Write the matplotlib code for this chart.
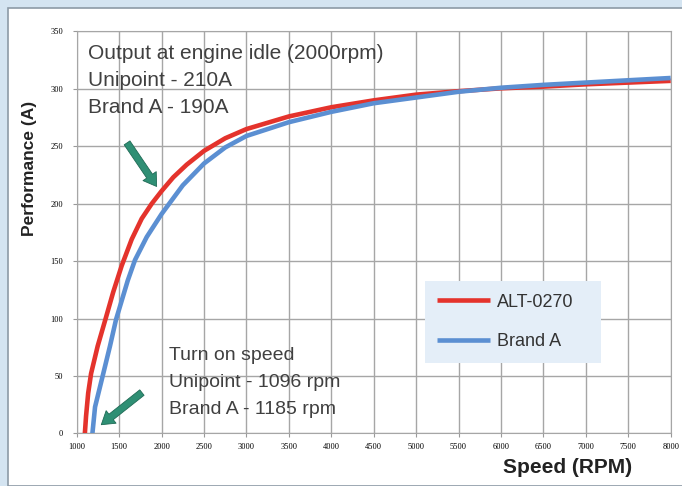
import matplotlib.pyplot as plt
from matplotlib.patches import Rectangle

# values
alt_rpm = [1096, 1110, 1135, 1169, 1247, 1345, 1430, 1530, 1648, 1766, 1884, 2000,
           2138, 2296, 2500, 2750, 3000, 3500, 4000, 4500, 5000, 5500, 6000,
           6500, 7000, 7500, 8000]
alt_amps = [0, 15, 35, 52, 76, 101, 123, 146, 169, 187, 200, 211,
            223, 234, 246, 257, 265, 276, 284, 290, 295, 298, 300.5,
            302, 304, 305.5, 307]
brand_rpm = [1185, 1216, 1306, 1392, 1463, 1601, 1687, 1825, 2000, 2250,
             2500, 2750, 3000, 3500, 4000, 4500, 5000, 5500, 6000, 6500, 7000,
             7500, 8000]
brand_amps = [0, 23, 50, 76, 99, 133, 151, 171, 191, 216,
              235, 249, 259, 271, 280, 287.5, 292.5, 297.5, 301, 303.5, 305.5,
              307.5, 309.5]
x_ticks = list(range(1000, 8001, 500))
y_ticks = list(range(0, 351, 50))

plt.rcParams['font.family'] = ['Liberation Sans', 'DejaVu Sans']

fig = plt.figure(figsize=(6.82, 4.86), dpi=100)
fig.patch.set_facecolor('#d4e4f1')
# white panel inside the light blue frame
fig.patches.append(Rectangle((8 / 682, 0), 1, 1 - 8 / 486, transform=fig.transFigure,
                             facecolor='white', edgecolor='#8c9aa6', lw=1.2, zorder=-5))

ax = fig.add_axes([0.1125, 0.1084, 0.8709, 0.8268])
ax.set_zorder(1)
ax.set_facecolor('white')

ax.plot(alt_rpm, alt_amps, color='#e4332c', lw=3.3, label='ALT-0270', zorder=3,
        solid_capstyle='butt')
ax.plot(brand_rpm, brand_amps, color='#5b8fd2', lw=3.3, label='Brand A', zorder=3,
        solid_capstyle='butt')

ax.set_xlim(1000, 8000)
ax.set_ylim(0, 350)
ax.set_xticks(x_ticks)
ax.set_yticks(y_ticks)
ax.tick_params(labelsize=6, length=3, color='#999999')
ax.tick_params(axis='x', pad=4)
ax.tick_params(axis='y', pad=7)
for lab in ax.get_xticklabels() + ax.get_yticklabels():
    lab.set_family('Liberation Serif')
ax.grid(True, color='#a6a6a6', lw=1)
ax.set_axisbelow(True)
for s in ax.spines.values():
    s.set_color('#a6a6a6')

leg = ax.legend(loc='lower left', bbox_to_anchor=(0.586, 0.1755, 0.296, 0.21),
                mode='expand', borderaxespad=0, fontsize=13, handlelength=2.9,
                handletextpad=0.4, labelspacing=1.25, borderpad=0.7,
                fancybox=False, framealpha=1)
leg.get_frame().set_facecolor('#e4eef8')
leg.get_frame().set_edgecolor('none')
for t in leg.get_texts():
    t.set_color('#333333')

ax.text(0.019, 0.968, 'Output at engine idle (2000rpm)\nUnipoint - 210A\nBrand A - 190A',
        transform=ax.transAxes, ha='left', va='top', fontsize=15, color='#404040',
        linespacing=1.52, zorder=4)
ax.text(0.155, 0.216, 'Turn on speed\nUnipoint - 1096 rpm\nBrand A - 1185 rpm',
        transform=ax.transAxes, ha='left', va='top', fontsize=14, color='#404040',
        linespacing=1.78, zorder=4)

arrow = dict(arrowstyle='simple,head_width=1.15,head_length=0.9,tail_width=0.5',
             fc='#2f8f74', ec='#1f6a55', lw=0.6)
ax.annotate('', xy=(1960, 213), xytext=(1575, 255), arrowprops=arrow, zorder=5)
ax.annotate('', xy=(1264, 6), xytext=(1794, 37), arrowprops=arrow, zorder=5)

fig.text(30 / 682, 1 - 168 / 486, 'Performance (A)', rotation=90, ha='center',
         va='center', fontsize=12.5, fontweight='bold', color='#222222')
fig.text(568 / 682, 1 - 467 / 486, 'Speed (RPM)', ha='center', va='center',
         fontsize=15, fontweight='bold', color='#222222')

fig.savefig('out.png', dpi=100, facecolor=fig.get_facecolor())
